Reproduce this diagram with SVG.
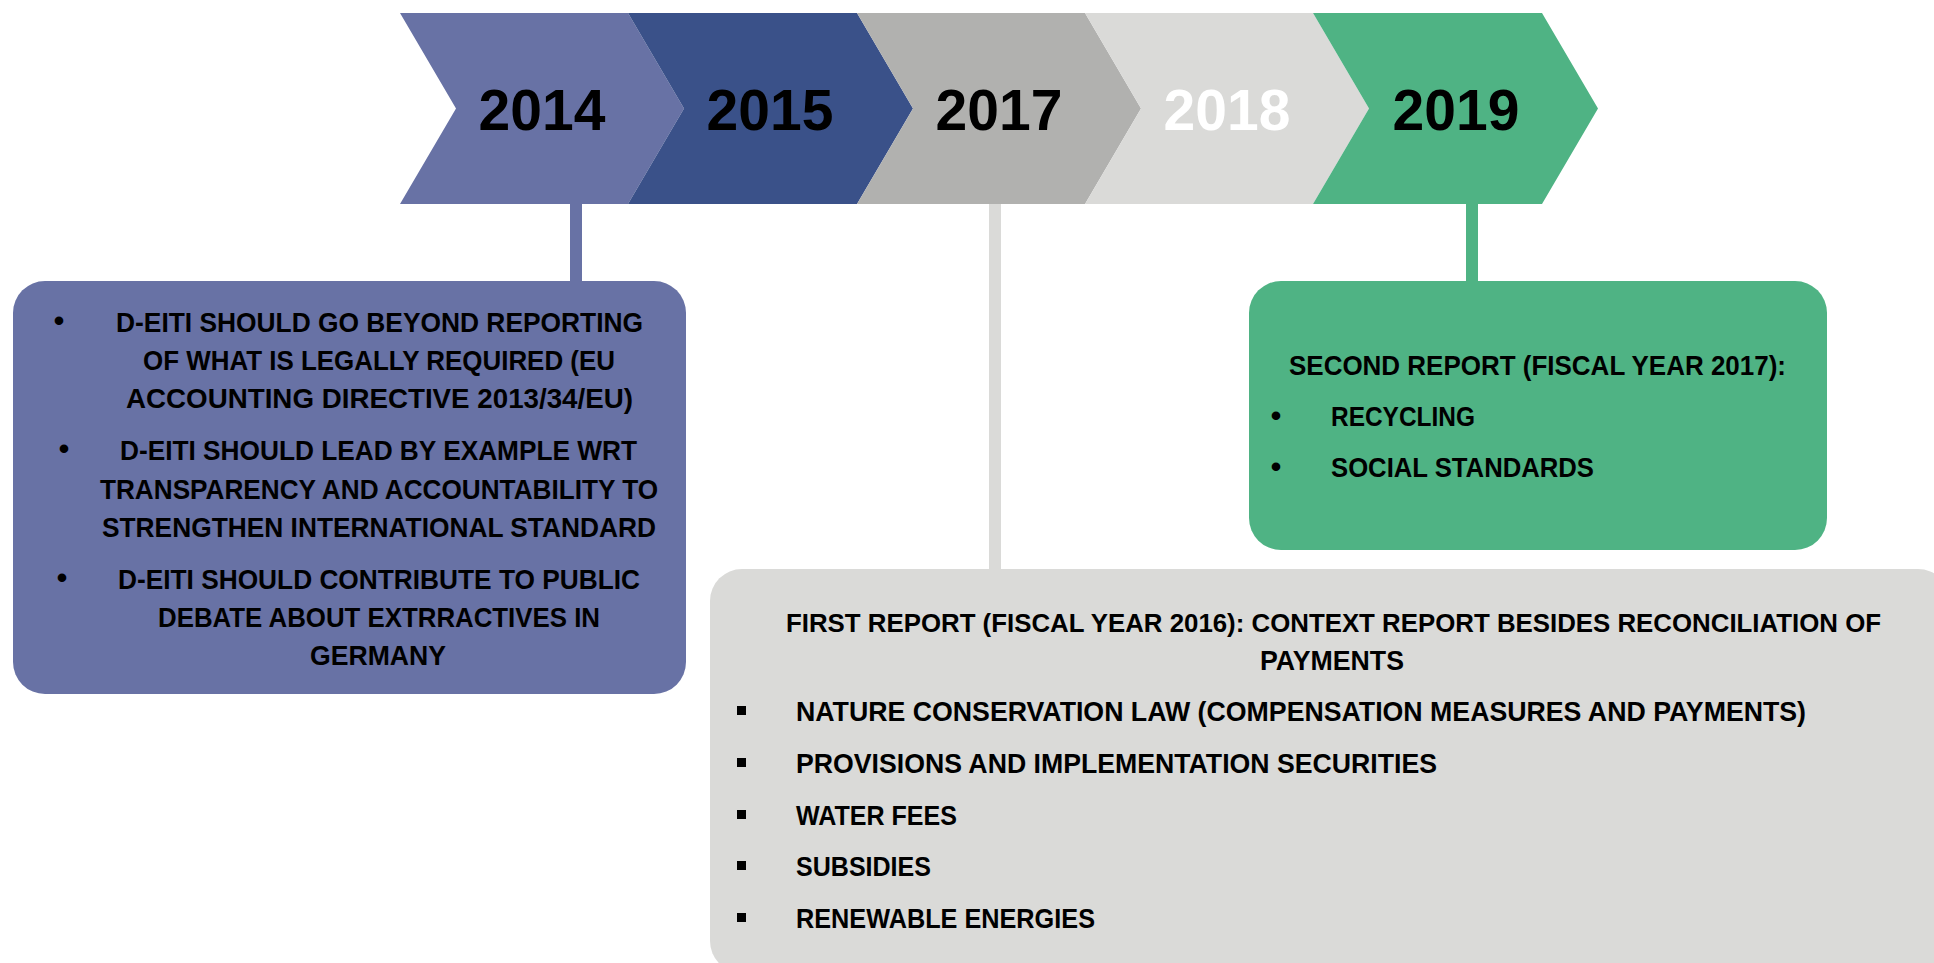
<svg xmlns="http://www.w3.org/2000/svg" width="1934" height="963" viewBox="0 0 1934 963">
<style>
.yr{font-family:"Liberation Sans",Arial,sans-serif;font-weight:bold;font-size:57px;text-anchor:middle}
.t{font-family:"Liberation Sans",Arial,sans-serif;font-weight:bold;font-size:28px;fill:#000}
.b{font-family:"Liberation Sans",Arial,sans-serif;font-weight:bold;font-size:30px;fill:#000;text-anchor:middle}
.sq{fill:#000}
.conn{stroke-width:12;fill:none}
</style>
<rect width="1934" height="963" fill="#FFFFFF"/>
<g id="chevrons">
<g id="y2014"><polygon points="400,13 628,13 684,108.5 628,204 400,204 456,108.5" fill="#6872A5"/><text class="yr" x="542" y="130" fill="#000">2014</text></g>
<g id="y2015"><polygon points="628,13 857,13 913,108.5 857,204 628,204 684,108.5" fill="#3A5189"/><text class="yr" x="770" y="130" fill="#000">2015</text></g>
<g id="y2017"><polygon points="857,13 1085,13 1141,108.5 1085,204 857,204 913,108.5" fill="#B1B1AF"/><text class="yr" x="999" y="130" fill="#000">2017</text></g>
<g id="y2018"><polygon points="1085,13 1313,13 1369,108.5 1313,204 1085,204 1141,108.5" fill="#DADAD8"/><text class="yr" x="1227" y="130" fill="#FFFFFF">2018</text></g>
<g id="y2019"><polygon points="1313,13 1542,13 1598,108.5 1542,204 1313,204 1369,108.5" fill="#4FB384"/><text class="yr" x="1456" y="130" fill="#000">2019</text></g>
</g>
<g id="connectors">
<line class="conn" x1="576" y1="204" x2="576" y2="283" stroke="#6872A5"/>
<line class="conn" x1="995" y1="204" x2="995" y2="571" stroke="#DADAD8"/>
<line class="conn" x1="1472" y1="204" x2="1472" y2="283" stroke="#4FB384"/>
</g>
<g id="box2014">
<rect x="13" y="281" width="673" height="413" rx="32" ry="32" fill="#6872A5"/>
<text class="b" x="59" y="331">•</text>
<text class="t" x="116" y="332" textLength="527" lengthAdjust="spacingAndGlyphs">D-EITI SHOULD GO BEYOND REPORTING</text>
<text class="t" x="143" y="370" textLength="472" lengthAdjust="spacingAndGlyphs">OF WHAT IS LEGALLY REQUIRED (EU</text>
<text class="t" x="126" y="408" textLength="507" lengthAdjust="spacingAndGlyphs">ACCOUNTING DIRECTIVE 2013/34/EU)</text>
<text class="b" x="64" y="459">•</text>
<text class="t" x="120" y="460" textLength="517" lengthAdjust="spacingAndGlyphs">D-EITI SHOULD LEAD BY EXAMPLE WRT</text>
<text class="t" x="100" y="499" textLength="558" lengthAdjust="spacingAndGlyphs">TRANSPARENCY AND ACCOUNTABILITY TO</text>
<text class="t" x="102" y="537" textLength="554" lengthAdjust="spacingAndGlyphs">STRENGTHEN INTERNATIONAL STANDARD</text>
<text class="b" x="62" y="588">•</text>
<text class="t" x="118" y="589" textLength="522" lengthAdjust="spacingAndGlyphs">D-EITI SHOULD CONTRIBUTE TO PUBLIC</text>
<text class="t" x="158" y="627" textLength="442" lengthAdjust="spacingAndGlyphs">DEBATE ABOUT EXTRRACTIVES IN</text>
<text class="t" x="310" y="665" textLength="136" lengthAdjust="spacingAndGlyphs">GERMANY</text>
</g>
<g id="box2019">
<rect x="1249" y="281" width="578" height="269" rx="32" ry="32" fill="#4FB384"/>
<text class="t" x="1289" y="375" textLength="497" lengthAdjust="spacingAndGlyphs">SECOND REPORT (FISCAL YEAR 2017):</text>
<text class="b" x="1276" y="426">•</text>
<text class="t" x="1331" y="426" textLength="144" lengthAdjust="spacingAndGlyphs">RECYCLING</text>
<text class="b" x="1276" y="477">•</text>
<text class="t" x="1331" y="477" textLength="263" lengthAdjust="spacingAndGlyphs">SOCIAL STANDARDS</text>
</g>
<g id="box2017">
<rect x="710" y="569" width="1240" height="404" rx="32" ry="32" fill="#DADAD8"/>
<text class="t" x="786" y="632" style="font-size:26.5px" textLength="1095" lengthAdjust="spacingAndGlyphs">FIRST REPORT (FISCAL YEAR 2016): CONTEXT REPORT BESIDES RECONCILIATION OF</text>
<text class="t" x="1260" y="670" textLength="144" lengthAdjust="spacingAndGlyphs">PAYMENTS</text>
<rect class="sq" x="737" y="706" width="9" height="9"/>
<text class="t" x="796" y="721" textLength="1010" lengthAdjust="spacingAndGlyphs">NATURE CONSERVATION LAW (COMPENSATION MEASURES AND PAYMENTS)</text>
<rect class="sq" x="737" y="758" width="9" height="9"/>
<text class="t" x="796" y="773" textLength="641" lengthAdjust="spacingAndGlyphs">PROVISIONS AND IMPLEMENTATION SECURITIES</text>
<rect class="sq" x="737" y="810" width="9" height="9"/>
<text class="t" x="796" y="825" textLength="161" lengthAdjust="spacingAndGlyphs">WATER FEES</text>
<rect class="sq" x="737" y="861" width="9" height="9"/>
<text class="t" x="796" y="876" textLength="135" lengthAdjust="spacingAndGlyphs">SUBSIDIES</text>
<rect class="sq" x="737" y="913" width="9" height="9"/>
<text class="t" x="796" y="928" textLength="299" lengthAdjust="spacingAndGlyphs">RENEWABLE ENERGIES</text>
</g>
</svg>
